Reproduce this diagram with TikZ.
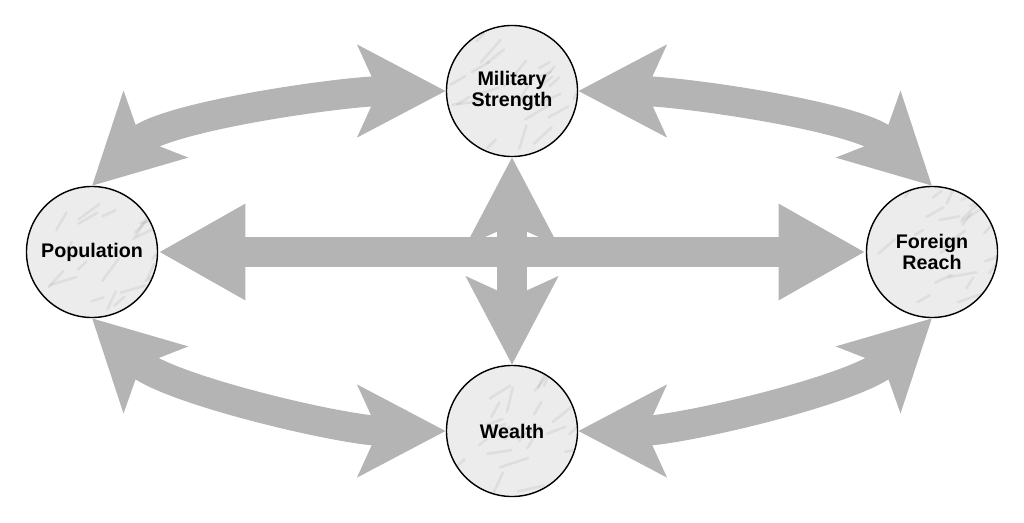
\documentclass[tikz,border=0pt]{standalone}
\usepackage{fontspec}
\setmainfont{Liberation Sans}
\usetikzlibrary{arrows.meta,calc}
\definecolor{arrowgray}{RGB}{180,180,180}
\definecolor{marble}{RGB}{236,236,236}

\begin{document}
\begin{tikzpicture}[
x=0.025cm, y=0.025cm,
every node/.style={
circle,
draw,
line width=1pt,
fill=marble,
minimum size=3.275cm,
inner sep=0pt,
align=center,
font=\fontsize{14}{15.5}\selectfont\bfseries,
path picture={
% marble veins
\foreach \v in {1,...,26}{
\draw[gray, line width=1.8pt, line cap=round, opacity=0.13]
($(path picture bounding box.center)+(rand*62,rand*62)$)
-- ++({35+rand*20}:{20+rand*12});
}
}
},
link/.style={
arrowgray,
line width=21.3pt,
looseness=0.7,
{Stealth[length=62pt,width=64pt,inset=14pt]}-{Stealth[length=62pt,width=64pt,inset=14pt]}
},
cross/.style={
arrowgray,
line width=21.3pt,
{Triangle[length=62pt,width=64pt]}-{Triangle[length=62pt,width=64pt]}
}
]
\pgfmathsetseed{7}
\useasboundingbox (0,0) rectangle (1024,522);

\node (M) at (512,431)
{Military\\Strength};

\node (P) at (92,270)
{Population};

\node (F) at (932,270)
{Foreign\\Reach};

\node (W) at (512,91)
{Wealth};

\draw[cross] (P) -- (F);
\draw[link] (M) -- (W);
\draw[link] (P.north) to[out=44, in=180] (M.west);
\draw[link] (M.east) to[out=0, in=136] (F.north);
\draw[link] (P.south) to[out=-44, in=180] (W.west);
\draw[link] (W.east) to[out=0, in=-136] (F.south);

\end{tikzpicture}
\end{document}
